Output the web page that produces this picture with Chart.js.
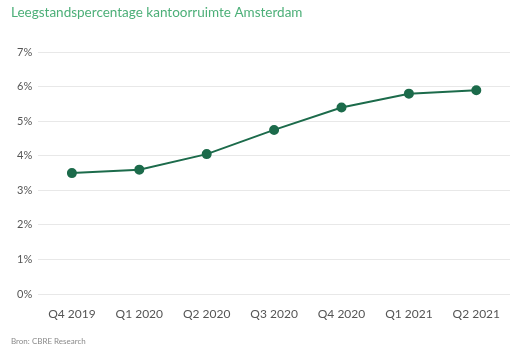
<!DOCTYPE html>
<html>
<head>
<meta charset="utf-8">
<script src="https://cdn.jsdelivr.net/npm/chart.js@4"></script>
<style>
html,body{margin:0;padding:0;background:#fff;}
#wrap{width:525px;height:350px;position:relative;}
</style>
</head>
<body>
<div id="wrap"><canvas id="c" width="525" height="350"></canvas></div>
<script>
const categories = ["Q4 2019","Q1 2020","Q2 2020","Q3 2020","Q4 2020","Q1 2021","Q2 2021"];
const vacancyPct = [3.5, 3.6, 4.05, 4.75, 5.4, 5.8, 5.9];
const yTickValues = [0,1,2,3,4,5,6,7];
const titleText = "Leegstandspercentage kantoorruimte Amsterdam";
const sourceText = "Bron: CBRE Research";

const fontFam = "Lato, 'Open Sans', sans-serif";
new Chart(document.getElementById('c'), {
  type: 'line',
  data: {
    labels: categories,
    datasets: [{
      data: vacancyPct,
      borderColor: '#1c6b4b',
      backgroundColor: '#1c6b4b',
      borderWidth: 2,
      pointRadius: 4,
      pointHoverRadius: 4,
      tension: 0,
      fill: false
    }]
  },
  options: {
    responsive: false,
    animation: false,
    layout: { padding: { left: 11, right: 15, top: 5, bottom: 4 } },
    plugins: {
      legend: { display: false },
      tooltip: { enabled: false },
      title: {
        display: true, text: titleText, align: 'start',
        color: '#4caf78',
        font: { family: fontFam, size: 13.5, weight: 'normal' },
        padding: { top: 0, bottom: 31 }
      },
      subtitle: {
        display: true, text: sourceText, align: 'start', position: 'bottom',
        color: '#8a8a8a',
        font: { family: fontFam, size: 8, weight: 'normal' },
        padding: { top: 2, bottom: 0 }
      }
    },
    scales: {
      x: {
        offset: true,
        grid: { display: false, drawTicks: false },
        border: { display: false },
        ticks: { color: '#555', font: { family: fontFam, size: 12 }, padding: 13, maxRotation: 0 }
      },
      y: {
        min: 0, max: 7,
        afterBuildTicks: (axis) => { axis.ticks = yTickValues.map(v => ({ value: v })); },
        grid: { color: '#e8e8e8', drawTicks: false, lineWidth: 1 },
        border: { display: false },
        ticks: { color: '#555', font: { family: fontFam, size: 11 }, padding: 6, callback: v => v + '%' }
      }
    }
  }
});
</script>
</body>
</html>
